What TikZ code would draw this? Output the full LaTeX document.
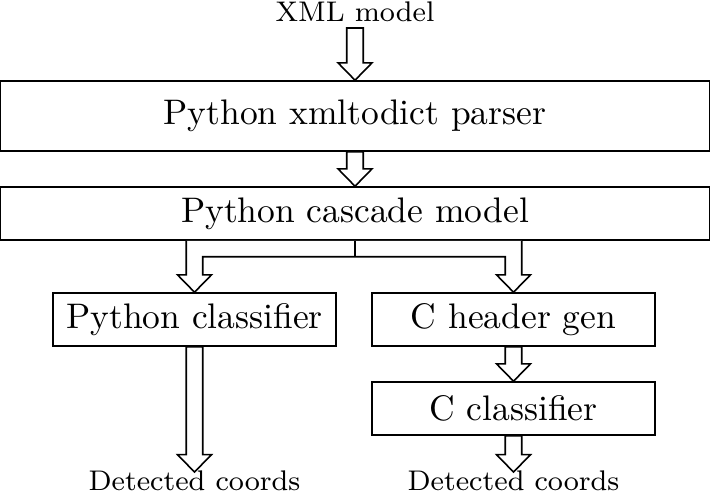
\documentclass[tikz,border=0pt]{standalone}
\usetikzlibrary{calc}
\newlength\arrsw \setlength\arrsw{2.32pt}
\newlength\arrhw \setlength\arrhw{4.79pt}
\newlength\arrhl \setlength\arrhl{4.9pt}
\newlength\arrj  \setlength\arrj{4.5pt}
\newcommand\downarr[2]{\draw[barrow] let \p1=(#1), \p2=(#2) in
  (\x1-\arrsw,\y1) -- (\x1-\arrsw,\y2+\arrhl) -- (\x1-\arrhw,\y2+\arrhl) -- (\x1,\y2)
  -- (\x1+\arrhw,\y2+\arrhl) -- (\x1+\arrsw,\y2+\arrhl) -- (\x1+\arrsw,\y1) -- cycle;}
\begin{document}
\begin{tikzpicture}[x=0.2817pt,y=-0.2817pt,line width=0.45pt,
  box/.style={draw, inner sep=0pt, font=\fontsize{10}{12}\selectfont},
  widebox/.style={box, minimum width=708.6*0.2817pt},
  smallbox/.style={box, minimum width=283*0.2817pt, minimum height=53*0.2817pt},
  lbl/.style={inner sep=0pt, font=\fontsize{8.0}{10}\selectfont},
  barrow/.style={draw, fill=white, line join=miter}]
\useasboundingbox (0,0) rectangle (710,494);
\node[widebox, minimum height=70*0.2817pt] (parser) at (355,116) {Python xmltodict parser};
\node[widebox, minimum height=53*0.2817pt] (cascade) at (355,213.5) {Python cascade model};
\node[smallbox] (pyclass) at (194.5,319.5) {Python classifier};
\node[smallbox] (cheader) at (513.5,319.5) {C header gen};
\node[smallbox] (cclass) at (513.5,408.5) {C classifier};
\node[lbl, anchor=base] (xml) at (355,21) {XML model};
\node[lbl, anchor=base] (det1) at (194.5,490) {Detected coords};
\node[lbl, anchor=base] (det2) at (513.5,490) {Detected coords};
\coordinate (xmlbot) at ($(xml.base)+(0,7)$);
\coordinate (det1tip) at ($(det1.base)+(0,-18)$);
\coordinate (det2tip) at ($(det2.base)+(0,-18)$);
\downarr{xmlbot}{parser.north}
\downarr{parser.south}{cascade.north}
\downarr{pyclass.south}{det1tip}
\downarr{cheader.south}{cclass.north}
\downarr{cclass.south}{det2tip}
\draw[barrow] let \p1=(pyclass.north), \p2=(cheader.north), \p3=(cascade.south) in
  (\x1-\arrsw,\y3) -- (\x1-\arrsw,\y1+\arrhl) -- (\x1-\arrhw,\y1+\arrhl) -- (\x1,\y1)
  -- (\x1+\arrhw,\y1+\arrhl) -- (\x1+\arrsw,\y1+\arrhl) -- (\x1+\arrsw,\y3-\arrj)
  -- (\x2-\arrsw,\y3-\arrj) -- (\x2-\arrsw,\y2+\arrhl) -- (\x2-\arrhw,\y2+\arrhl) -- (\x2,\y2)
  -- (\x2+\arrhw,\y2+\arrhl) -- (\x2+\arrsw,\y2+\arrhl) -- (\x2+\arrsw,\y3);
\draw (cascade.south) -- ++(0,16);
\end{tikzpicture}
\end{document}
